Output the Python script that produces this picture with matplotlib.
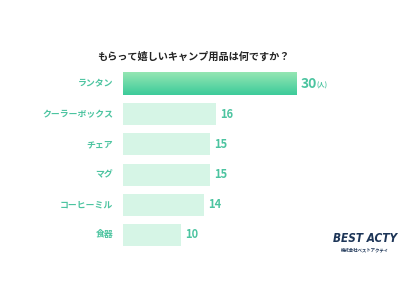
import matplotlib
matplotlib.use("Agg")
import matplotlib.pyplot as plt
import numpy as np
from matplotlib.colors import LinearSegmentedColormap

plt.rcParams['font.family'] = ['Noto Sans CJK JP', 'DejaVu Sans']

categories = ["ランタン", "クーラーボックス", "チェア", "マグ", "コーヒーミル", "食器"]
values = [30, 16, 15, 15, 14, 10]
title = "もらって嬉しいキャンプ用品は何ですか？"
unit = "(人)"

fig = plt.figure(figsize=(4, 3), dpi=100)
fig.patch.set_facecolor("white")

# axes: x 0..30 maps to px 123..297; y centers 84..235
ax = fig.add_axes([123/400, (300-250.1)/300, 174/400, 181.2/300])
ax.set_xlim(0, 30)
ax.set_ylim(5.5, -0.5)
ax.axis("off")

label_color = "#4cc4a0"
light = "#d6f5e6"
h = 0.73
ypos = np.arange(len(categories))

cmap = LinearSegmentedColormap.from_list("g", ["#95e6b3", "#3ccb9a"])
for i, (c, v) in enumerate(zip(categories, values)):
    if i == 0:
        grad = np.linspace(0, 1, 64).reshape(-1, 1)
        ax.imshow(grad, cmap=cmap, aspect="auto",
                  extent=(0, v, i + h/2, i - h/2), zorder=2)
        ax.text(v + 0.7, i, str(v), ha="left", va="center", color=label_color,
                fontsize=10, fontweight="bold", clip_on=False)
        ax.text(v + 3.4, i + 0.05, unit, ha="left", va="center", color=label_color,
                fontsize=4.5, fontweight="bold", clip_on=False)
    else:
        ax.barh(i, v, height=h, color=light, zorder=2)
        ax.text(v + 0.7, i, str(v), ha="left", va="center", color=label_color,
                fontsize=8, fontweight="bold", clip_on=False)
    ax.text(-1.7, i, c, ha="right", va="center", color=label_color,
            fontsize=6.4, fontweight="bold", clip_on=False)
ax.set_xlim(0, 30)
ax.set_ylim(5.5, -0.5)

fig.text(0.4825, 1 - 57/300, title, ha="center", va="center", color="#222222",
         fontsize=7.3, fontweight="bold")

fig.text(365/400, 1 - 239/300, "BEST ACTY", ha="center", va="center",
         color="#1d3557", fontsize=8.5, fontweight="bold", style="italic",
         stretch="condensed", family=["DejaVu Sans"])
fig.text(365/400, 1 - 249.5/300, "株式会社ベストアクティ", ha="center", va="center",
         color="#1d3557", fontsize=3.2, fontweight="bold")

fig.savefig("out.png", dpi=100)
